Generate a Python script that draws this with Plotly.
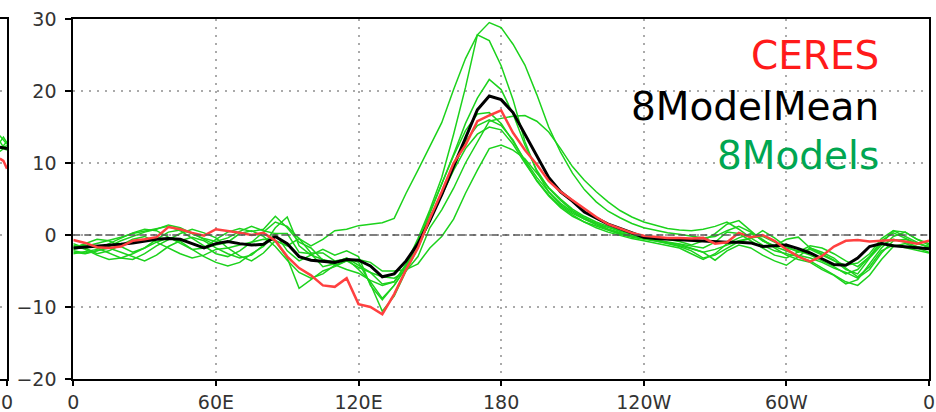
import plotly.graph_objects as go

# Longitude grid (degrees east, 0..360)
lon = list(range(0, 361, 5))

x_tickvals = [0, 60, 120, 180, 240, 300, 360]
x_ticktext = ["0", "60E", "120E", "180", "120W", "60W", "0"]
y_tickvals = [-20, -10, 0, 10, 20, 30]

ceres = [-0.7, -1.1, -1.7, -1.8, -1.6, -0.8, -0.6, -0.3, 1.1, 0.8, 0.3, -0.1, 0.8, 0.6, 0.3, 0.0, 0.3, -0.8,
         -3.0, -4.6, -5.6, -7.0, -7.2, -6.0, -9.6, -10.0, -11.0, -8.2, -4.8, -1.8,
         2.3, 6.0, 10.0, 12.5, 15.8, 16.6, 17.3, 14.2, 11.8, 9.8, 7.5, 6.0, 4.8, 3.7,
         2.5, 1.5, 0.9, 0.3, -0.1, -0.3, -0.4, -0.4, -0.5, -0.4, -1.2, -1.0, 0.3, -0.3,
         0.0, -0.8, -2.0, -3.0, -3.7, -2.9, -1.6, -0.8, -0.7, -0.9, -0.8, -0.7, -0.9, -1.2, -0.8]

model_mean = [-1.8, -1.7, -1.5, -1.4, -1.3, -1.1, -0.8, -0.6, -0.5, -0.6, -1.2, -1.8, -1.2, -0.9, -1.2, -1.4, -1.3, -0.2,
              -1.2, -3.0, -3.5, -3.7, -3.8, -3.4, -3.5, -4.3, -5.8, -5.4, -3.6, -1.2,
              2.0, 5.6, 9.6, 13.5, 17.4, 19.3, 18.8, 17.0, 14.0, 10.9, 8.0, 6.0, 4.7, 3.2,
              2.4, 1.5, 0.9, 0.3, -0.3, -0.5, -0.6, -0.7, -0.8, -0.9, -1.0, -1.0, -1.0, -1.1,
              -1.6, -1.5, -1.4, -1.9, -2.5, -3.3, -4.1, -4.2, -3.2, -1.6, -1.2, -1.5, -1.6, -1.8, -1.9]

model_1 = [-2.0, -1.6, -1.2, -0.8, -0.3, 0.2, 0.5, 0.9, 1.2, 0.6, -0.4, -1.5, -2.6, -3.0, -2.2, -1.0, 0.4, 1.8,
           1.2, -0.5, -1.5, -0.6, 0.6, 0.8, 1.3, 1.5, 1.7, 2.3, 5.8, 9.0,
           12.2, 15.6, 20.2, 24.5, 27.8, 29.5, 28.8, 26.5, 23.6, 19.5, 15.0, 11.5, 8.6, 6.3,
           4.6, 3.3, 2.4, 1.6, 1.0, 0.6, 0.3, 0.1, -0.2, -0.4, -0.2, 0.6, 1.2, 0.4,
           -0.8, -1.5, -0.6, -0.3, -1.8, -2.6, -3.5, -4.8, -5.4, -3.2, -1.4, -0.6, -1.0, -1.6, -2.0]
model_2 = [-2.6, -2.3, -2.0, -1.2, -0.4, 0.3, 0.8, 0.6, -0.3, -1.2, -2.0, -1.8, -0.6, 0.4, 0.9, 0.5, 0.8, 2.6,
           1.0, -1.0, -1.8, -3.5, -4.2, -4.8, -5.3, -6.3, -7.0, -6.5, -4.0, -0.5,
           3.5, 8.0, 14.0, 20.5, 27.8, 27.0, 23.5, 18.8, 13.0, 8.8, 6.0, 4.2, 3.0, 2.2,
           1.6, 1.0, 0.5, 0.1, -0.2, -0.4, -0.6, -0.9, -1.4, -0.8, 0.2, 1.5, 2.0, 0.6,
           -0.8, -1.6, -2.2, -2.8, -3.2, -3.8, -4.6, -5.2, -6.0, -4.8, -2.5, -0.8, -0.6, -1.2, -1.6]
model_3 = [-1.6, -1.4, -1.8, -2.5, -3.2, -3.4, -2.6, -1.5, -0.6, 0.2, 0.8, 0.3, -0.4, -1.8, -2.9, -3.6, -2.5, -0.8,
           -1.5, -0.5, -2.5, -2.5, -3.6, -3.3, -4.8, -6.5, -8.8, -7.0, -4.5, -1.2,
           3.0, 7.0, 11.2, 15.5, 19.0, 21.6, 20.2, 16.8, 12.5, 9.0, 6.5, 4.8, 3.4, 2.4,
           1.6, 0.8, 0.2, -0.2, -0.5, -0.8, -1.2, -1.6, -2.2, -3.2, -2.8, -1.8, -0.9, -0.5,
           0.6, -0.4, -1.6, -2.4, -2.0, -2.8, -3.6, -4.2, -3.9, -2.6, -0.5, 0.6, -0.2, -1.0, -1.8]
model_4 = [-2.2, -2.5, -2.2, -1.6, -0.8, -0.2, 0.4, 0.8, 1.4, 1.0, 0.2, -0.6, -1.4, -1.0, 0.2, 0.6, -0.2, -1.6,
           -3.5, -5.2, -6.0, -5.4, -4.2, -3.6, -4.5, -5.2, -5.8, -6.0, -5.0, -3.0,
           1.0, 3.5, 6.5, 10.0, 13.0, 15.8, 16.2, 16.5, 16.6, 15.8, 14.3, 12.0, 9.5, 7.6,
           6.0, 4.6, 3.4, 2.5, 1.8, 1.3, 0.9, 0.7, 0.6, 0.8, 1.2, 1.8, 0.8, -0.4,
           -1.4, -2.2, -2.6, -3.0, -3.6, -4.6, -5.6, -6.5, -7.0, -5.6, -3.4, -1.6, -1.2, -1.8, -2.4]
model_5 = [-1.8, -1.2, -0.6, -0.8, -1.6, -2.4, -1.8, -0.6, 0.4, 0.7, 0.2, -0.5, -0.9, -0.4, 0.5, 1.2, 0.6, 0.2,
           -2.2, -3.6, -2.8, -3.4, -3.8, -3.2, -4.2, -5.2, -6.8, -6.5, -4.2, -0.8,
           3.2, 7.0, 11.0, 14.5, 16.8, 17.0, 15.5, 13.0, 10.4, 8.0, 6.0, 4.4, 3.2, 2.2,
           1.4, 0.8, 0.3, -0.1, -0.4, -0.7, -1.0, -1.2, -1.5, -1.8, -1.0, 0.4, 0.2, -0.8,
           -1.8, -2.8, -3.2, -2.4, -1.5, -1.8, -2.6, -3.6, -4.4, -3.0, -0.8, 0.3, -0.4, -1.2, -1.6]
model_6 = [-1.4, -2.0, -2.8, -3.4, -3.2, -2.6, -1.8, -1.0, -0.4, -0.9, -2.0, -3.0, -3.8, -4.3, -3.8, -2.6, -1.6, 0.2,
           0.2, -2.4, -2.6, -4.4, -4.0, -3.2, -3.8, -6.8, -10.6, -8.5, -5.0, -1.8,
           2.0, 5.8, 9.5, 13.0, 15.2, 16.0, 15.2, 13.2, 10.2, 7.5, 5.4, 3.8, 2.6, 1.8,
           1.2, 0.6, 0.1, -0.3, -0.6, -0.9, -1.1, -1.3, -1.8, -2.4, -3.5, -2.2, -1.4, -1.8,
           -2.8, -3.6, -4.2, -3.0, -1.8, -2.4, -3.2, -4.6, -5.8, -4.4, -2.2, -1.4, -1.8, -2.2, -2.5]
model_7 = [-2.4, -2.6, -2.2, -1.8, -2.4, -3.0, -3.6, -2.8, -1.6, -0.8, -0.3, -0.8, -1.8, -2.6, -3.2, -2.8, -1.4, 1.0,
           2.5, -1.5, -2.8, -2.0, -2.8, -2.2, -3.0, -7.0, -9.0, -7.0, -4.5, -1.0,
           2.5, 5.5, 9.0, 12.0, 14.0, 15.0, 14.6, 12.6, 10.0, 7.6, 5.6, 4.0, 2.8, 1.8,
           1.0, 0.4, -0.1, -0.5, -0.8, -1.1, -1.4, -1.8, -2.6, -3.4, -2.6, -1.2, -0.4, 0.2,
           -0.6, -1.8, -2.8, -3.4, -3.8, -4.8, -5.6, -6.8, -6.2, -4.0, -1.8, -0.2, 0.4, -0.6, -1.4]
model_8 = [-1.2, -1.8, -2.6, -2.2, -1.4, -0.6, -0.2, -1.0, -1.8, -2.6, -3.2, -2.8, -2.0, -1.8, -1.4, -1.0, -0.6, -0.8,
           -3.2, -7.4, -6.2, -5.0, -4.4, -3.6, -3.4, -3.8, -5.0, -5.0, -4.8, -4.0,
           -1.8, -0.2, 2.2, 5.8, 9.0, 12.0, 12.5, 11.8, 10.6, 8.6, 6.6, 5.0, 3.6, 2.6,
           1.8, 1.2, 0.6, 0.2, -0.2, -0.6, -1.0, -1.4, -1.9, -2.4, -2.0, -1.4, -0.8, -0.4,
           -0.2, -1.0, -1.8, -2.2, -2.8, -3.6, -4.4, -5.4, -4.8, -3.0, -1.2, 0.6, 0.4, -0.6, -1.2]
models = [model_1, model_2, model_3, model_4, model_5, model_6, model_7, model_8]

# Right-hand end of the neighbouring (left) panel, which is cut off by the frame
left_lon = [357, 358.5, 360]
left_models = [[13.8, 13.2, 12.6], [12.9, 13.6, 12.8], [12.0, 12.4, 13.0],
               [11.6, 12.0, 11.8], [13.0, 12.2, 12.4]]
left_mean = [12.2, 12.1, 12.0]
left_ceres = [10.6, 10.3, 9.2]

GREEN = "#1CD21C"
RED = "#FF4040"
TICKFONT = "DejaVu Sans"

fig = go.Figure()
for m in models:
    fig.add_trace(go.Scatter(x=lon, y=m, mode="lines", line=dict(color=GREEN, width=1.5),
                             showlegend=False, hoverinfo="skip"))
fig.add_trace(go.Scatter(x=lon, y=model_mean, mode="lines", line=dict(color="black", width=3),
                         showlegend=False))
fig.add_trace(go.Scatter(x=lon, y=ceres, mode="lines", line=dict(color=RED, width=2.5),
                         showlegend=False))

for m in left_models:
    fig.add_trace(go.Scatter(x=left_lon, y=m, xaxis="x2", yaxis="y2", mode="lines",
                             line=dict(color=GREEN, width=1.5), showlegend=False))
fig.add_trace(go.Scatter(x=left_lon, y=left_mean, xaxis="x2", yaxis="y2", mode="lines",
                         line=dict(color="black", width=3), showlegend=False))
fig.add_trace(go.Scatter(x=left_lon, y=left_ceres, xaxis="x2", yaxis="y2", mode="lines",
                         line=dict(color=RED, width=2.5), showlegend=False))

fig.add_hline(y=0, line=dict(color="#555555", width=1.5, dash="7px,4px"))

common_axis = dict(showline=True, linecolor="black", linewidth=2, mirror=True,
                   ticks="outside", tickwidth=1.5, tickcolor="black",
                   showgrid=True, gridcolor="#AAAAAA", gridwidth=1.5, griddash="2px,6px",
                   zeroline=False, automargin=False)

fig.update_layout(
    width=936, height=412,
    margin=dict(l=0, r=7, t=19, b=33),
    paper_bgcolor="white", plot_bgcolor="white",
    xaxis=dict(domain=[0.0789, 1], range=[0, 360], tickvals=x_tickvals, ticktext=x_ticktext,
               tickfont=dict(family=TICKFONT, size=19, color="#333333"), ticklabelstandoff=0,
               ticklen=5, ticklabeloverflow="allow", anchor="y", **common_axis),
    yaxis=dict(domain=[0, 1], range=[-20, 30], tickvals=y_tickvals,
               tickfont=dict(family=TICKFONT, size=19, color="#333333"), ticklabelstandoff=5,
               ticklen=6, ticklabeloverflow="allow", anchor="x", **common_axis),
    xaxis2=dict(domain=[0, 0.0075], range=[357.05, 360], tickvals=[360], ticktext=["0"],
                tickfont=dict(family=TICKFONT, size=19, color="#333333"), ticklabelstandoff=0,
                ticklabeloverflow="allow", automargin=False,
                anchor="y2", showline=True, linecolor="black", linewidth=2, mirror=True,
                ticks="outside", ticklen=5, tickwidth=1.5, tickcolor="black",
                showgrid=False, zeroline=False),
    yaxis2=dict(domain=[0, 1], range=[-20, 30], anchor="x2", side="right", automargin=False,
                showticklabels=False, showline=True, linecolor="black", linewidth=2,
                ticks="", tickvals=y_tickvals, showgrid=True, gridcolor="#AAAAAA",
                gridwidth=1.5, griddash="2px,6px", zeroline=False),
)

legend_items = [("CERES", "#FF1A1A", 24.9), ("8ModelMean", "black", 17.8), ("8Models", "#00A651", 11.0)]
for text, color, yv in legend_items:
    fig.add_annotation(x=339.7, y=yv, xref="x", yref="y", text=text, showarrow=False,
                       xanchor="right", yanchor="middle",
                       font=dict(family="DejaVu Sans", size=39, color=color))

fig.write_html("out.html")
